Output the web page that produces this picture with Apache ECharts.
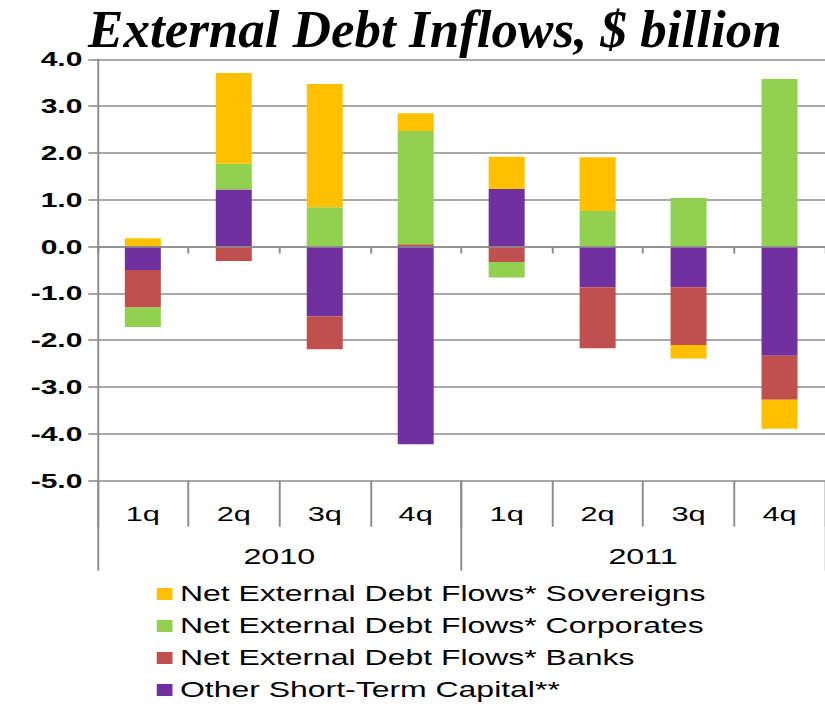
<!DOCTYPE html>
<html>
<head>
<meta charset="utf-8">
<script src="https://cdn.jsdelivr.net/npm/echarts@6/dist/echarts.min.js"></script>
<style>
  html, body { margin: 0; padding: 0; background: #fff; overflow: hidden; }
  /* The chart is laid out narrow and stretched sideways, as in the published slide */
  #chart { width: 550px; height: 760px; transform: scaleX(1.5); transform-origin: 0 0; }
</style>
</head>
<body>
<div id="chart"></div>
<script>
// Quarters and years for the two-level category axis
const quarters = ['1q', '2q', '3q', '4q', '1q', '2q', '3q', '4q'];
const years = ['2010', '2011'];

// Value axis range, $ billion
const yMin = -5;
const yMax = 4;
const yStep = 1;

// Flows by component, $ billion
const otherShortTerm = [-0.50, 1.22, -1.49, -4.22, 1.23, -0.87, -0.87, -2.33];
const banks          = [-0.80, -0.31, -0.70, 0.05, -0.33, -1.30, -1.23, -0.94];
const corporates     = [-0.42, 0.55, 0.84, 2.42, -0.33, 0.76, 1.04, 3.58];
const sovereigns     = [0.18, 1.94, 2.63, 0.38, 0.69, 1.15, -0.29, -0.62];

const names = {
  sov: 'Net External Debt Flows* Sovereigns',
  corp: 'Net External Debt Flows* Corporates',
  bank: 'Net External Debt Flows* Banks',
  other: 'Other Short-Term Capital**'
};

const stretch = 1.5;
const gray = '#8c8c8c';
const sans = 'Liberation Sans, Arial, sans-serif';

const chart = echarts.init(document.getElementById('chart'), null, { renderer: 'svg' });

function bar(name, data, color) {
  return {
    name: name,
    type: 'bar',
    stack: 'flows',
    xAxisIndex: 0,
    yAxisIndex: 0,
    barWidth: 24,
    data: data,
    itemStyle: { color: color },
    emphasis: { disabled: true }
  };
}

chart.setOption({
  animation: false,
  backgroundColor: '#fff',
  // Headline keeps its natural proportions: undo the sideways stretch
  graphic: [{
    type: 'text',
    x: 58.7,
    y: 29,
    scaleX: 1 / stretch,
    silent: true,
    style: {
      text: 'External Debt Inflows, $ billion',
      fontFamily: 'Liberation Serif, Times New Roman, serif',
      fontStyle: 'italic',
      fontWeight: 'bold',
      fontSize: 53,
      fill: '#000',
      verticalAlign: 'middle',
      align: 'left'
    }
  }],
  legend: {
    orient: 'vertical',
    left: 99.5,
    top: 578,
    itemWidth: 10.5,
    itemHeight: 12,
    itemGap: 10,
    icon: 'rect',
    selectedMode: false,
    data: [names.sov, names.corp, names.bank, names.other],
    textStyle: { fontFamily: sans, fontSize: 21.3, color: '#000', lineHeight: 22 }
  },
  grid: { left: 64.9, top: 59.3, width: 490.7, height: 421.4 },
  xAxis: [
    {
      // quarter row of the category axis, under the plot
      type: 'category',
      data: quarters,
      position: 'bottom',
      axisLine: { show: false, onZero: false },
      axisTick: { show: true, length: 46, lineStyle: { color: gray, width: 1.3 } },
      axisLabel: { margin: 23, fontFamily: sans, fontSize: 20.5, color: '#000' },
      splitLine: { show: false }
    },
    {
      // year row of the category axis
      type: 'category',
      data: years,
      position: 'bottom',
      axisLine: { show: false, onZero: false },
      axisTick: { show: true, length: 90, lineStyle: { color: gray, width: 1.3 } },
      axisLabel: { margin: 64.5, fontFamily: sans, fontSize: 21.5, color: '#000' },
      splitLine: { show: false }
    },
    {
      // horizontal axis line through zero with its tick marks
      type: 'category',
      data: quarters,
      position: 'bottom',
      z: 5,
      axisLine: { show: true, onZero: true, lineStyle: { color: gray, width: 1.6 } },
      axisTick: { show: true, length: 7, lineStyle: { color: gray, width: 1.3 } },
      axisLabel: { show: false },
      splitLine: { show: false }
    }
  ],
  yAxis: {
    type: 'value',
    min: yMin,
    max: yMax,
    interval: yStep,
    axisLine: { show: true, lineStyle: { color: gray, width: 1.3 } },
    axisTick: { show: true, length: 6, lineStyle: { color: gray, width: 1.6 } },
    axisLabel: {
      margin: 10,
      fontFamily: sans,
      fontSize: 20,
      fontWeight: 'bold',
      color: '#000',
      formatter: v => v.toFixed(1)
    },
    splitLine: { show: true, lineStyle: { color: gray, width: 1.6 } }
  },
  series: [
    bar(names.other, otherShortTerm, '#7030A0'),
    bar(names.bank, banks, '#C0504D'),
    bar(names.corp, corporates, '#92D050'),
    bar(names.sov, sovereigns, '#FFC000')
  ]
});
</script>
</body>
</html>
